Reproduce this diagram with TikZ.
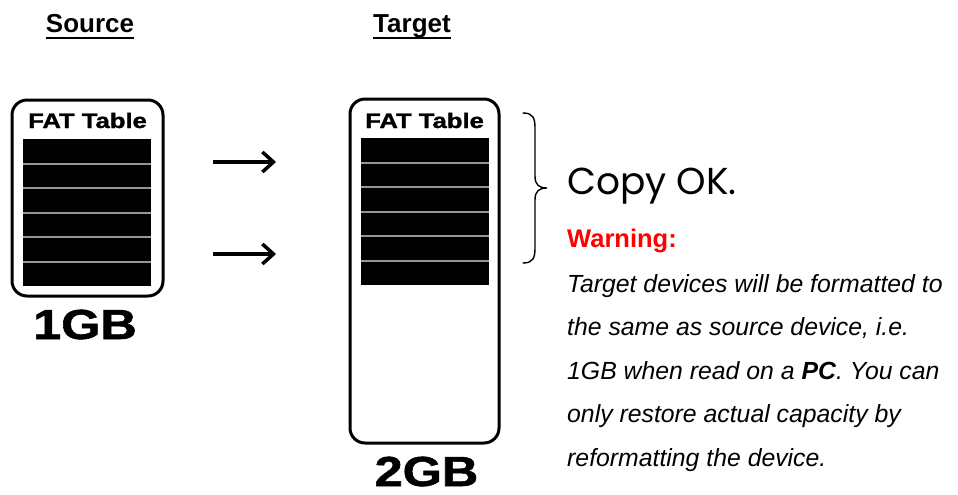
\documentclass[tikz,border=0pt]{standalone}
\usepackage{fontspec}
\usepackage{graphicx}
\setmainfont{Liberation Sans}
\newfontfamily\copyfont{Poppins}
\newfontfamily\heavyfont{Liberation Sans}[BoldFeatures={FakeBold=1.2}]
\usetikzlibrary{arrows.meta}
\definecolor{sepgrey}{RGB}{150,150,150}
\definecolor{warnred}{RGB}{255,0,0}
\tikzset{
  devbox/.style={draw=black,line width=3pt,rounded corners=15pt,fill=white},
  txt/.style={inner sep=0pt,anchor=base west},
  fatlabel/.style={inner sep=0pt,anchor=base,font=\fontsize{21}{22}\selectfont\heavyfont\bfseries},
  sizelabel/.style={inner sep=0pt,anchor=base,font=\fontsize{42}{43}\selectfont\heavyfont\bfseries},
  titlelabel/.style={inner sep=0pt,anchor=base,font=\fontsize{26}{27}\selectfont\bfseries},
  copyarrow/.style={line width=3.5pt,-{Straight Barb[length=11pt,width=20pt]}},
  sepline/.style={draw=sepgrey,line width=2pt},
  body/.style={txt,font=\fontsize{24.8}{25}\selectfont\itshape}
}
\begin{document}
\begin{tikzpicture}[x=1pt,y=-1pt]
\useasboundingbox[fill=white] (0,0) rectangle (958,495);
% titles
\node[titlelabel] (src) at (90,33) {Source};
\draw[line width=2.5pt] ([yshift=-5pt]src.base west) -- ([yshift=-5pt]src.base east);
\node[titlelabel] (tgt) at (412,33) {Target};
\draw[line width=2.5pt] ([yshift=-5pt]tgt.base west) -- ([yshift=-5pt]tgt.base east);
% source device
\draw[devbox] (12,100) rectangle (163,296);
\node[fatlabel] (fat1) at (87.5,128) {\scalebox{1.22}[1]{FAT Table}};
\fill[black] (23,139) rectangle (151,286);
\foreach \yy in {163.5,188,212.5,237,261.5}
  \draw[sepline] (23,\yy) -- (151,\yy);
\node[sizelabel] (g1) at (85,339) {\scalebox{1.2}[1]{1GB}};
% target device
\draw[devbox] (350,99) rectangle (499,443);
\node[fatlabel] (fat2) at (424.5,128) {\scalebox{1.22}[1]{FAT Table}};
\fill[black] (361,138) rectangle (489,285);
\foreach \yy in {162.5,187,211.5,236,260.5}
  \draw[sepline] (361,\yy) -- (489,\yy);
\node[sizelabel] (g2) at (426.5,486) {\scalebox{1.2}[1]{2GB}};
% arrows
\coordinate (a1s) at (213,162);
\coordinate (a1e) at (276,162);
\coordinate (a2s) at (213,254);
\coordinate (a2e) at (276,254);
\draw[copyarrow] (a1s) -- (a1e);
\draw[copyarrow] (a2s) -- (a2e);
% brace
\draw[line width=1.4pt,line cap=round]
  (523,113) .. controls (533,113) and (535,118) .. (535,128)
  -- (535,176) .. controls (535,185) and (539,188) .. (547,188)
  .. controls (539,188) and (535,191) .. (535,200)
  -- (535,248) .. controls (535,258) and (533,263) .. (523,263);
% texts
\node[txt,font=\fontsize{37.5}{38}\selectfont\copyfont] (ok) at (567,194) {Copy OK.};
\node[txt,font=\fontsize{25.5}{26}\selectfont\bfseries,text=warnred] (warn) at (567,247) {Warning:};
\node[body] (l1) at (567,292) {Target devices will be formatted to};
\node[body] (l2) at (567,335.5) {the same as source device, i.e.};
\node[body] (l3) at (567,379) {1GB when read on a \textbf{PC}. You can};
\node[body] (l4) at (567,422.5) {only restore actual capacity by};
\node[body] (l5) at (567,466) {reformatting the device.};
\end{tikzpicture}
\end{document}
